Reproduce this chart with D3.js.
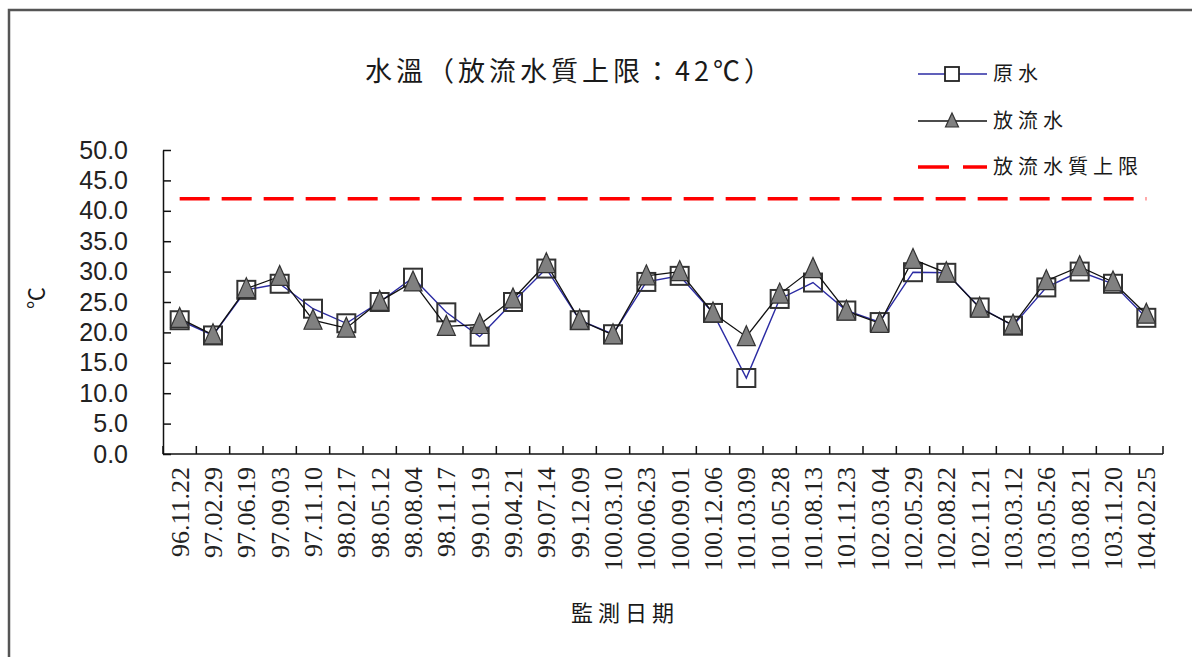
<!DOCTYPE html>
<html>
<head>
<meta charset="utf-8">
<script src="https://cdn.jsdelivr.net/npm/d3@7"></script>
<style>
  html, body { margin: 0; padding: 0; background: #fff; }
  svg { display: block; }
  .cjk { font-family: "Noto Sans CJK TC", "Noto Sans CJK SC", sans-serif; fill: #1a1a1a; }
</style>
</head>
<body>
<svg id="chart" width="1192" height="657"></svg>
<script>
// Monitoring dates (ROC calendar)
const dates = [
  "96.11.22","97.02.29","97.06.19","97.09.03","97.11.10","98.02.17","98.05.12","98.08.04",
  "98.11.17","99.01.19","99.04.21","99.07.14","99.12.09","100.03.10","100.06.23","100.09.01",
  "100.12.06","101.03.09","101.05.28","101.08.13","101.11.23","102.03.04","102.05.29","102.08.22",
  "102.11.21","103.03.12","103.05.26","103.08.21","103.11.20","104.02.25"
];
// Raw water temperature (°C)
const rawWater = [
  22.0,19.5,27.0,28.0,23.9,21.5,25.0,29.0,
  23.3,19.3,25.0,30.5,22.0,19.7,28.3,29.3,
  23.2,12.5,25.5,28.2,23.6,21.7,29.9,29.8,
  24.1,21.1,27.4,30.0,28.0,22.4
];
// Effluent temperature (°C)
const effluent = [
  22.3,19.6,27.2,29.2,22.0,20.7,25.1,28.3,
  21.0,21.3,25.5,31.3,22.0,19.6,29.3,30.0,
  23.2,19.3,26.3,30.5,23.5,21.5,32.0,29.8,
  24.0,21.2,28.5,30.8,28.3,23.0
];
// Effluent quality upper limit (°C)
const limitValue = 42;
const limit = dates.map(() => limitValue);
const yTicks = [0,5,10,15,20,25,30,35,40,45,50];

const svg = d3.select("#chart");

// outer frame
svg.append("path")
  .attr("d", "M9,700 L9,10 L1200,10")
  .attr("fill", "none").attr("stroke", "#555").attr("stroke-width", 2.5);

const x = d3.scaleBand().domain(dates).range([163, 1163]).padding(0);
const y = d3.scaleLinear().domain([0, 50]).range([454, 150]);
const cx = d => x(d) + x.bandwidth() / 2;

// y axis
const yAxis = d3.axisLeft(y)
  .tickValues(yTicks)
  .tickFormat(d3.format(".1f"))
  .tickSizeInner(-8)
  .tickSizeOuter(0)
  .tickPadding(35);
const gy = svg.append("g").attr("transform", "translate(163,0)").call(yAxis);
gy.select(".domain").attr("stroke", "#111").attr("stroke-width", 1.5);
gy.selectAll(".tick line").attr("stroke", "#111").attr("stroke-width", 1.5);
gy.selectAll(".tick text")
  .attr("font-family", "'Liberation Sans', Arial, sans-serif")
  .attr("font-size", 25).attr("fill", "#222");

// x axis: line, inner ticks at category boundaries, rotated labels
const gx = svg.append("g");
gx.append("line")
  .attr("x1", 163).attr("x2", 1163).attr("y1", y(0)).attr("y2", y(0))
  .attr("stroke", "#111").attr("stroke-width", 1.5);
const bounds = dates.map(d => x(d)).concat([x.range()[1]]);
gx.selectAll("line.tk").data(bounds).join("line").attr("class", "tk")
  .attr("x1", d => d).attr("x2", d => d)
  .attr("y1", y(0)).attr("y2", y(0) - 8)
  .attr("stroke", "#111").attr("stroke-width", 1.5);
gx.selectAll("text.lbl").data(dates).join("text").attr("class", "lbl")
  .attr("transform", d => `translate(${cx(d)},467) rotate(-90)`)
  .attr("text-anchor", "end")
  .attr("dy", "0.35em")
  .attr("font-family", "'Liberation Serif', 'Times New Roman', serif")
  .attr("font-size", 26).attr("fill", "#222")
  .text(d => d);

// axis titles
svg.append("text").attr("class", "cjk")
  .attr("transform", "translate(36,298) rotate(-90)")
  .attr("text-anchor", "middle").attr("dy", "0.35em")
  .attr("font-size", 22).text("℃");
svg.append("text").attr("class", "cjk")
  .attr("x", 625).attr("y", 613).attr("text-anchor", "middle").attr("dy", "0.35em")
  .attr("font-size", 22).attr("letter-spacing", 5).text("監測日期");

// chart title
svg.append("text").attr("class", "cjk")
  .attr("x", 570).attr("y", 72).attr("text-anchor", "middle").attr("dy", "0.35em")
  .attr("font-size", 27).attr("letter-spacing", 4).text("水溫（放流水質上限：42℃）");

const line = d3.line().x((v, i) => cx(dates[i])).y(v => y(v));

// raw water series
svg.append("path").datum(rawWater)
  .attr("d", line).attr("fill", "none")
  .attr("stroke", "#2b2ba3").attr("stroke-width", 1.4);
svg.selectAll("rect.raw").data(rawWater).join("rect").attr("class", "raw")
  .attr("x", (v, i) => cx(dates[i]) - 9).attr("y", v => y(v) - 9)
  .attr("width", 18).attr("height", 18)
  .attr("fill", "none").attr("stroke", "#333").attr("stroke-width", 2);

// effluent series
const tri = "M0,-11 L9,9 L-9,9 Z";
svg.append("path").datum(effluent)
  .attr("d", line).attr("fill", "none")
  .attr("stroke", "#111").attr("stroke-width", 1.3);
svg.selectAll("path.eff").data(effluent).join("path").attr("class", "eff")
  .attr("d", tri)
  .attr("transform", (v, i) => `translate(${cx(dates[i])},${y(v)})`)
  .attr("fill", "#808080").attr("stroke", "#333").attr("stroke-width", 1.2);

// limit line
svg.append("path").datum(limit)
  .attr("d", line).attr("fill", "none")
  .attr("stroke", "#ff0000").attr("stroke-width", 3.5)
  .attr("stroke-dasharray", "30,12");

// legend
const lg = svg.append("g");
const rows = [
  { label: "原水", y: 74, kind: "raw" },
  { label: "放流水", y: 121, kind: "eff" },
  { label: "放流水質上限", y: 167, kind: "lim" }
];
rows.forEach(r => {
  const ln = lg.append("line").attr("x1", 918).attr("x2", 987).attr("y1", r.y).attr("y2", r.y);
  if (r.kind === "raw") {
    ln.attr("stroke", "#2b2ba3").attr("stroke-width", 1.4);
    lg.append("rect").attr("x", 945).attr("y", r.y - 7).attr("width", 14).attr("height", 14)
      .attr("fill", "#fff").attr("stroke", "#222").attr("stroke-width", 1.8);
  } else if (r.kind === "eff") {
    ln.attr("stroke", "#111").attr("stroke-width", 1.3);
    lg.append("path").attr("d", "M0,-8 L6.5,6 L-6.5,6 Z")
      .attr("transform", `translate(952,${r.y})`)
      .attr("fill", "#808080").attr("stroke", "#333").attr("stroke-width", 1.2);
  } else {
    ln.attr("stroke", "#ff0000").attr("stroke-width", 3.5).attr("stroke-dasharray", "31,14");
  }
  lg.append("text").attr("class", "cjk")
    .attr("x", 993).attr("y", r.y).attr("dy", "0.35em")
    .attr("font-size", 20).attr("letter-spacing", 5).text(r.label);
});
</script>
</body>
</html>
